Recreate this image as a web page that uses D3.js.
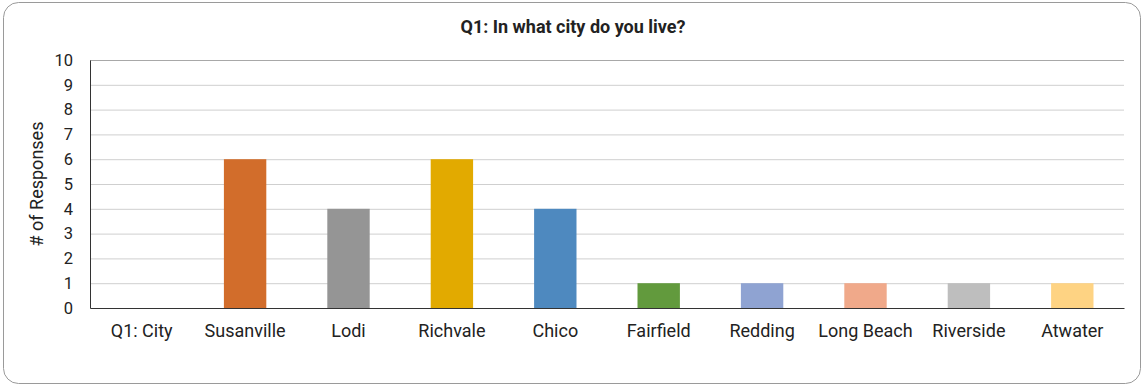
<!DOCTYPE html>
<html>
<head>
  <script src="https://d3js.org/d3.v7.min.js"></script>
  <style>
    body { margin: 0; background: #fff; }
    text { font-family: Roboto, "Liberation Sans", sans-serif; fill: #222; }
  </style>
</head>
<body>
<svg width="1144" height="386"></svg>
<script>
  // chart data
  const cities = ["Q1: City", "Susanville", "Lodi", "Richvale", "Chico", "Fairfield", "Redding", "Long Beach", "Riverside", "Atwater"];
  const responses = [0, 6, 4, 6, 4, 1, 1, 1, 1, 1];
  const barColors = ["#cccccc", "#d26d2b", "#959595", "#e2aa00", "#4e89bf", "#629a3d", "#8fa3d2", "#f0a98a", "#bebebe", "#fed383"];
  const yTicks = [0, 1, 2, 3, 4, 5, 6, 7, 8, 9, 10];

  const svg = d3.select("svg");
  const margin = {top: 60, right: 20, bottom: 78, left: 90},
    width = 1144 - margin.left - margin.right,
    height = 386 - margin.top - margin.bottom;

  // outer frame
  svg.append("rect")
    .attr("x", 3.5).attr("y", 2.5)
    .attr("width", 1137).attr("height", 381)
    .attr("rx", 15)
    .attr("fill", "#fff")
    .attr("stroke", "#9a9a9a")
    .attr("stroke-width", 1);

  svg.append("text")
    .attr("x", 573).attr("y", 33)
    .attr("text-anchor", "middle")
    .style("font-size", "18px")
    .style("font-weight", "bold")
    .text("Q1: In what city do you live?");

  const g = svg.append("g")
    .attr("transform", "translate(" + margin.left + "," + margin.top + ")");

  const x = d3.scaleBand()
    .domain(cities)
    .range([0, width])
    .paddingInner(0.59)
    .paddingOuter(0.295);

  const y = d3.scaleLinear()
    .domain([0, 10])
    .range([height, 0]);

  // gridlines
  g.selectAll(".grid")
    .data(yTicks.filter(d => d > 0))
    .join("line")
      .attr("class", "grid")
      .attr("x1", 0).attr("x2", width)
      .attr("y1", d => y(d) + 0.5).attr("y2", d => y(d) + 0.5)
      .attr("stroke", d => d === 10 ? "#a8a8a8" : "#cfcfcf")
      .attr("stroke-width", 1);

  // bars
  g.selectAll(".bar")
    .data(cities)
    .join("rect")
      .attr("class", "bar")
      .attr("x", d => x(d))
      .attr("width", x.bandwidth())
      .attr("y", (d, i) => y(responses[i]))
      .attr("height", (d, i) => height - y(responses[i]))
      .attr("fill", (d, i) => barColors[i]);

  // Y axis
  const yAxis = g.append("g")
    .call(d3.axisLeft(y).tickValues(yTicks).tickSize(0).tickPadding(17));
  yAxis.select(".domain").attr("stroke", "#333");
  yAxis.selectAll("text").style("font-size", "16.5px").attr("fill", "#222");

  // X axis
  const xAxis = g.append("g")
    .attr("transform", "translate(0," + height + ")")
    .call(d3.axisBottom(x).tickSize(0).tickPadding(16));
  xAxis.select(".domain").attr("stroke", "#333").attr("stroke-width", 1.2);
  xAxis.selectAll("text").style("font-size", "18px").attr("fill", "#222");

  // Y axis title
  svg.append("text")
    .attr("transform", "translate(43," + (margin.top + height / 2) + ") rotate(-90)")
    .attr("text-anchor", "middle")
    .style("font-size", "18px")
    .text("# of Responses");
</script>
</body>
</html>
